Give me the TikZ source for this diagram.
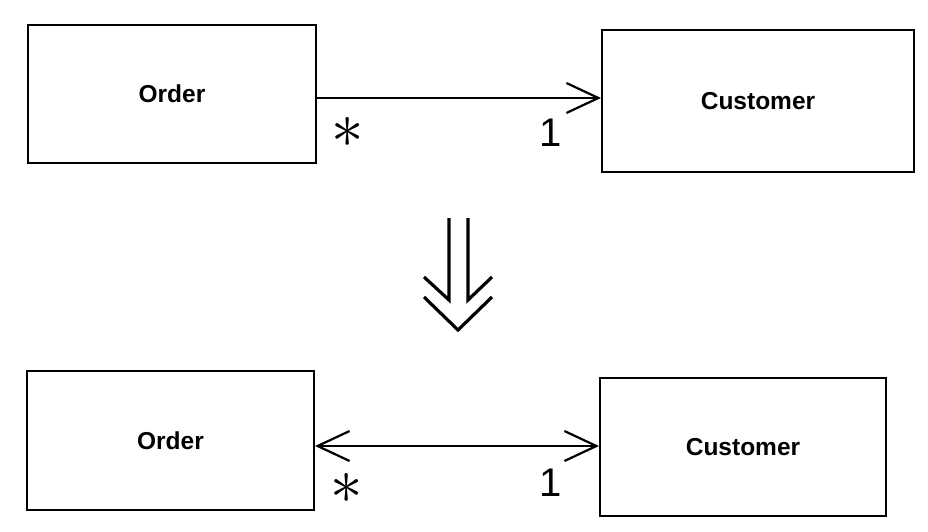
\documentclass[tikz,border=0pt]{standalone}
\usepackage{fontspec}
\setmainfont{Liberation Sans}
\usepackage{graphicx}
\usetikzlibrary{arrows.meta}
\begin{document}
\begin{tikzpicture}[x=1pt,y=-1pt,
  cls/.style={draw, line width=2pt, inner sep=0pt, font=\bfseries\fontsize{24.5}{28}\selectfont},
  assoc/.style={line width=2.2pt},
  mult/.style={font=\fontsize{40}{44}\selectfont},
  big/.style={line width=3.2pt}]
\tikzset{barb/.tip={Straight Barb[length=32pt,width=30pt,line width=2.2pt]}}
\useasboundingbox (0,0) rectangle (928,532);
% top
\node[cls, minimum width=288pt, minimum height=138pt] (o1) at (172,94) {Order};
\node[cls, minimum width=312pt, minimum height=142pt] (c1) at (758,101) {Customer};
\draw[assoc, -barb] (o1.east |- 0,98) -- (c1.west |- 0,98);
\node[mult] (s1) at (348,132) {\scalebox{2.6}{$\ast$}};
\node[mult] (n1) at (551,133) {1};
% bottom
\node[cls, minimum width=287pt, minimum height=139pt] (o2) at (170.5,440.5) {Order};
\node[cls, minimum width=286pt, minimum height=138pt] (c2) at (743,447) {Customer};
\draw[assoc, barb-barb] (o2.east |- 0,446) -- (c2.west |- 0,446);
\node[mult] (s2) at (347,488) {\scalebox{2.6}{$\ast$}};
\node[mult] (n2) at (551,483) {1};
% derivation arrow
\coordinate (l1) at (449,218);
\coordinate (l2) at (449,300);
\coordinate (r1) at (468,218);
\coordinate (r2) at (468,300);
\draw[big] (l1) -- (l2) -- (424,277);
\draw[big] (r1) -- (r2) -- (492,277);
\draw[big] (424,297) -- (458,330) -- (492,297);
\end{tikzpicture}
\end{document}
